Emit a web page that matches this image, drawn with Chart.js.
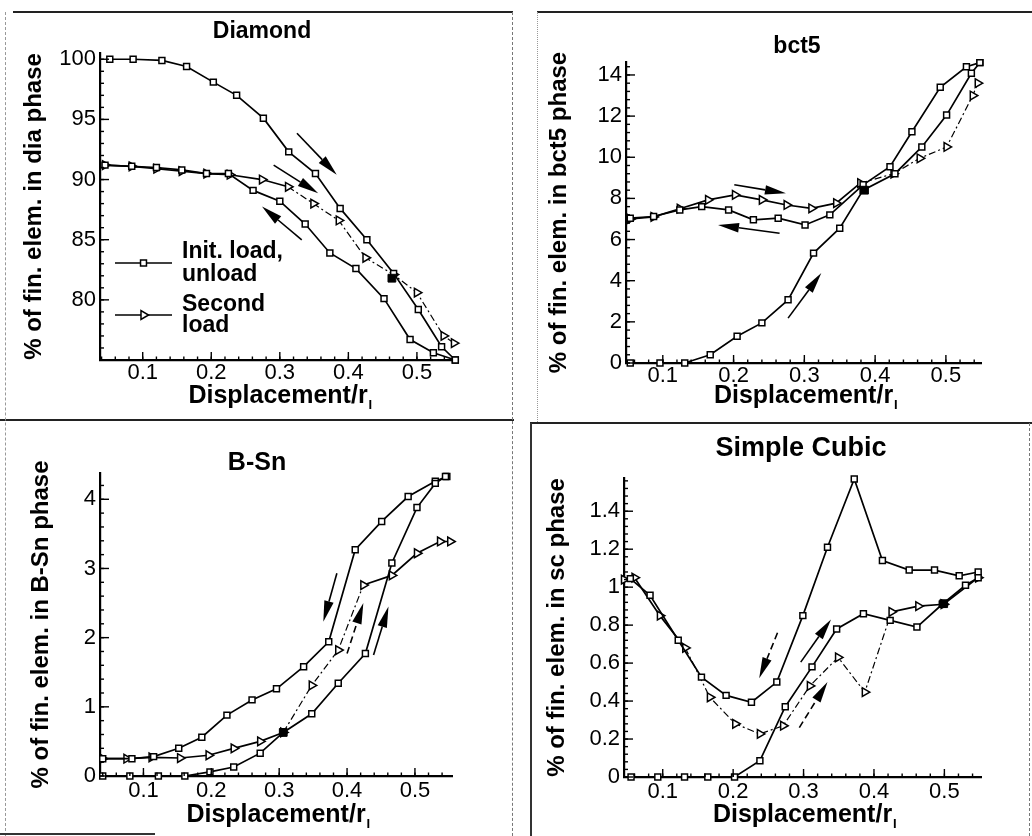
<!DOCTYPE html>
<html><head><meta charset="utf-8">
<script src="https://cdn.jsdelivr.net/npm/chart.js@4.4.1/dist/chart.umd.min.js"></script>
<style>
html,body{margin:0;padding:0;background:#fff;}
#wrap{position:relative;width:1032px;height:836px;overflow:hidden;background:#fff;}
canvas{position:absolute;}
.ln{position:absolute;pointer-events:none;}
</style></head><body>
<div id="wrap">
<canvas id="c1"></canvas><canvas id="c2"></canvas><canvas id="c3"></canvas><canvas id="c4"></canvas>
<div class="ln" style="left:13px;top:11px;width:500px;height:2px;background:#222"></div>
<div class="ln" style="left:537px;top:11px;width:495px;height:2px;background:#222"></div>
<div class="ln" style="left:0;top:419px;width:514px;height:2px;background:#222"></div>
<div class="ln" style="left:530px;top:422px;width:502px;height:2px;background:#222"></div>
<div class="ln" style="left:512px;top:12px;height:408px;border-left:1px dashed #777"></div>
<div class="ln" style="left:537px;top:12px;height:410px;border-left:1px dotted #999"></div>
<div class="ln" style="left:5px;top:12px;height:824px;border-left:1px dashed #999"></div>
<div class="ln" style="left:512px;top:421px;height:415px;border-left:1px dashed #777"></div>
<div class="ln" style="left:530px;top:423px;height:413px;border-left:2px solid #333"></div>
<div class="ln" style="left:1029px;top:423px;height:413px;border-left:1px dashed #777"></div>
<div class="ln" style="left:0;top:833px;width:155px;height:2px;background:#333"></div>
</div>
<script>
// ---------- shared ----------
const xTickValues = [0.1, 0.2, 0.3, 0.4, 0.5];
const xAxisTitle = 'Displacement/r';
const xAxisSub = 'I';
const legendLabels = [['Init. load,', 'unload'], ['Second', 'load']];

// ---------- Diamond ----------
const diaTitle = 'Diamond';
const diaYTitle = '% of fin. elem. in dia phase';
const diaYTicks = [80, 85, 90, 95, 100];
const diaInitX = [0.052, 0.086, 0.128, 0.164, 0.203, 0.237, 0.276, 0.313, 0.352, 0.388, 0.427, 0.466, 0.502, 0.536, 0.556];
const diaInitY = [100, 100, 99.9, 99.4, 98.1, 97.0, 95.1, 92.3, 90.5, 87.6, 85.0, 82.2, 79.2, 76.1, 75.0];
const diaUnloadX = [0.556, 0.524, 0.490, 0.452, 0.411, 0.373, 0.337, 0.300, 0.261, 0.225, 0.193, 0.157, 0.120, 0.084, 0.045];
const diaUnloadY = [75.0, 75.6, 76.7, 80.1, 82.6, 83.9, 86.3, 88.2, 89.1, 90.5, 90.5, 90.8, 91.0, 91.1, 91.2];
const diaSecondX = [0.045, 0.084, 0.120, 0.157, 0.193, 0.227, 0.274, 0.312, 0.349, 0.386, 0.425, 0.466, 0.500, 0.539, 0.554];
const diaSecondY = [91.2, 91.1, 90.9, 90.7, 90.5, 90.4, 90.0, 89.4, 88.0, 86.6, 83.5, 82.1, 80.6, 77.0, 76.4];
const diaFilledX = [0.4635];
const diaFilledY = [81.8];
const diaArrows = [[0.325, 93.85, 0.383, 90.39, 'solid'], [0.291, 91.2, 0.356, 88.86, 'solid'], [0.332, 84.99, 0.274, 87.76, 'solid']];

// ---------- bct5 ----------
const bctTitle = 'bct5';
const bctYTitle = '% of fin. elem. in bct5 phase';
const bctYTicks = [0, 2, 4, 6, 8, 10, 12, 14];
const bctInitX = [0.054, 0.096, 0.131, 0.167, 0.205, 0.240, 0.277, 0.313, 0.350, 0.383, 0.428, 0.466, 0.501, 0.536, 0.548];
const bctInitY = [0, 0, 0, 0.4, 1.3, 1.95, 3.07, 5.34, 6.55, 8.4, 9.2, 10.5, 12.05, 14.08, 14.6];
const bctUnloadX = [0.548, 0.529, 0.492, 0.452, 0.421, 0.383, 0.336, 0.301, 0.263, 0.228, 0.193, 0.155, 0.124, 0.087, 0.054];
const bctUnloadY = [14.6, 14.4, 13.4, 11.24, 9.54, 8.66, 7.2, 6.71, 7.04, 6.96, 7.44, 7.6, 7.44, 7.12, 7.04];
const bctSecondX = [0.054, 0.087, 0.124, 0.164, 0.202, 0.240, 0.275, 0.310, 0.345, 0.379, 0.426, 0.463, 0.501, 0.538, 0.545];
const bctSecondY = [7.0, 7.1, 7.5, 7.93, 8.17, 7.93, 7.68, 7.52, 7.77, 8.74, 9.2, 9.95, 10.5, 13.0, 13.6];
const bctFilledX = [0.385];
const bctFilledY = [8.4];
const bctArrows = [[0.201, 8.66, 0.274, 8.25, 'solid'], [0.265, 6.31, 0.178, 6.71, 'solid'], [0.277, 2.18, 0.324, 4.37, 'solid']];

// ---------- B-Sn ----------
const bsnTitle = 'B-Sn';
const bsnYTitle = '% of fin. elem. in B-Sn phase';
const bsnYTicks = [0, 1, 2, 3, 4];
const bsnInitX = [0.040, 0.080, 0.122, 0.161, 0.198, 0.233, 0.272, 0.306, 0.348, 0.387, 0.427, 0.466, 0.503, 0.530, 0.545];
const bsnInitY = [0, 0, 0, 0, 0.06, 0.13, 0.33, 0.63, 0.90, 1.34, 1.77, 3.08, 3.88, 4.23, 4.33];
const bsnUnloadX = [0.547, 0.530, 0.490, 0.451, 0.412, 0.373, 0.336, 0.296, 0.260, 0.223, 0.186, 0.152, 0.115, 0.083, 0.040];
const bsnUnloadY = [4.33, 4.26, 4.04, 3.68, 3.27, 1.94, 1.58, 1.26, 1.10, 0.88, 0.56, 0.40, 0.28, 0.25, 0.25];
const bsnSecondX = [0.040, 0.075, 0.112, 0.154, 0.196, 0.233, 0.272, 0.306, 0.348, 0.387, 0.424, 0.466, 0.503, 0.537, 0.552];
const bsnSecondY = [0.25, 0.25, 0.27, 0.26, 0.30, 0.40, 0.50, 0.63, 1.31, 1.82, 2.76, 2.90, 3.22, 3.39, 3.39];
const bsnFilledX = [0.306];
const bsnFilledY = [0.63];
const bsnArrows = [[0.385, 2.93, 0.365, 2.23, 'solid'], [0.400, 1.77, 0.424, 2.50, 'dash'], [0.439, 1.75, 0.461, 2.45, 'solid']];

// ---------- Simple Cubic ----------
const scTitle = 'Simple Cubic';
const scYTitle = '% of fin. elem. in sc phase';
const scYTicks = [0, 0.2, 0.4, 0.6, 0.8, 1, 1.2, 1.4];
const scInitX = [0.055, 0.093, 0.131, 0.164, 0.202, 0.238, 0.274, 0.312, 0.347, 0.385, 0.423, 0.461, 0.497, 0.530, 0.548];
const scInitY = [0, 0, 0, 0, 0, 0.086, 0.37, 0.58, 0.78, 0.86, 0.825, 0.79, 0.91, 1.01, 1.05];
const scUnloadX = [0.548, 0.521, 0.486, 0.450, 0.412, 0.372, 0.334, 0.299, 0.262, 0.226, 0.190, 0.155, 0.122, 0.082, 0.054];
const scUnloadY = [1.08, 1.06, 1.09, 1.09, 1.14, 1.57, 1.21, 0.85, 0.50, 0.394, 0.43, 0.526, 0.72, 0.957, 1.045];
const scSecondX = [0.045, 0.060, 0.096, 0.132, 0.167, 0.203, 0.238, 0.271, 0.309, 0.349, 0.387, 0.425, 0.463, 0.499, 0.548];
const scSecondY = [1.04, 1.05, 0.85, 0.68, 0.42, 0.28, 0.227, 0.27, 0.48, 0.63, 0.447, 0.87, 0.90, 0.91, 1.05];
const scFilledX = [0.499];
const scFilledY = [0.913];
const scArrows = [[0.263, 0.76, 0.237, 0.52, 'dash'], [0.296, 0.605, 0.339, 0.83, 'solid'], [0.294, 0.26, 0.334, 0.50, 'dash']];

// ---------- helpers / plugins ----------
Chart.defaults.font.family = "'Liberation Sans', Arial, Helvetica, sans-serif";
Chart.defaults.color = '#000';
const pts = (xs, ys) => xs.map((x, i) => ({x: x, y: ys[i]}));

const inwardTicks = {
  id: 'inwardTicks',
  afterDraw(chart, args, opts) {
    const {ctx, chartArea: a} = chart;
    const xs = chart.scales.x, ys = chart.scales.y;
    ctx.save(); ctx.strokeStyle = '#000'; ctx.lineWidth = 1.4;
    const dx = (v, len) => { const p = xs.getPixelForValue(v); ctx.beginPath(); ctx.moveTo(p, a.bottom); ctx.lineTo(p, a.bottom - len); ctx.stroke(); };
    const dy = (v, len) => { const p = ys.getPixelForValue(v); ctx.beginPath(); ctx.moveTo(a.left, p); ctx.lineTo(a.left + len, p); ctx.stroke(); };
    for (let k = Math.ceil(xs.min / opts.xMinor); k * opts.xMinor <= xs.max + 1e-9; k++) dx(k * opts.xMinor, 3.5);
    for (let k = Math.ceil(ys.min / opts.yMinor); k * opts.yMinor <= ys.max + 1e-9; k++) dy(k * opts.yMinor, 4);
    xs.ticks.forEach(t => dx(t.value, 8));
    ys.ticks.forEach(t => dy(t.value, 9));
    ctx.restore();
  }
};

const arrowsPlugin = {
  id: 'arrows',
  afterDatasetsDraw(chart, args, opts) {
    const {ctx} = chart; const xs = chart.scales.x, ys = chart.scales.y;
    (opts.list || []).forEach(([x0, y0, x1, y1, style]) => {
      const ax = xs.getPixelForValue(x0), ay = ys.getPixelForValue(y0);
      const bx = xs.getPixelForValue(x1), by = ys.getPixelForValue(y1);
      const ang = Math.atan2(by - ay, bx - ax), c = Math.cos(ang), s = Math.sin(ang);
      const L = 21, W = 4.8;
      const hx = bx - L * c, hy = by - L * s;
      ctx.save(); ctx.strokeStyle = '#000'; ctx.fillStyle = '#000'; ctx.lineWidth = 1.6;
      ctx.setLineDash(style === 'dash' ? [7, 4] : []);
      ctx.beginPath(); ctx.moveTo(ax, ay); ctx.lineTo(hx, hy); ctx.stroke();
      ctx.setLineDash([]);
      ctx.beginPath(); ctx.moveTo(bx, by); ctx.lineTo(hx - W * s, hy + W * c); ctx.lineTo(hx + W * s, hy - W * c); ctx.closePath(); ctx.fill();
      ctx.restore();
    });
  }
};

const innerLegend = {
  id: 'innerLegend',
  afterDraw(chart, args, opts) {
    if (!opts.items) return;
    const {ctx, chartArea: a} = chart;
    ctx.save();
    opts.items.forEach(it => {
      const ds = chart.data.datasets[it.dataset];
      const y = a.top + it.dy;
      ctx.strokeStyle = '#000'; ctx.lineWidth = 1.6; ctx.setLineDash([]);
      ctx.beginPath(); ctx.moveTo(a.left + it.x0, y); ctx.lineTo(a.left + it.x1, y); ctx.stroke();
      ctx.fillStyle = '#fff'; ctx.lineWidth = ds.pointBorderWidth;
      Chart.helpers.drawPoint(ctx, {pointStyle: ds.pointStyle, rotation: ds.pointRotation || 0, radius: ds.pointRadius, borderWidth: ds.pointBorderWidth}, a.left + (it.x0 + it.x1) / 2, y);
      ctx.fillStyle = '#000'; ctx.font = 'bold 23px "Liberation Sans", Arial, sans-serif';
      ctx.textAlign = 'left'; ctx.textBaseline = 'middle';
      it.text.forEach((t, i) => ctx.fillText(t, a.left + it.tx, y + it.ty[i]));
    });
    ctx.restore();
  }
};

const xSub = {
  id: 'xSub',
  afterDraw(chart) {
    const sc = chart.scales.x; const t = sc.options.title;
    const f = Chart.helpers.toFont(t.font);
    const {ctx} = chart;
    ctx.save(); ctx.font = f.string;
    const w = ctx.measureText(t.text).width;
    const cx = (sc.left + sc.right) / 2;
    const cy = sc.bottom - t.padding.bottom - f.lineHeight / 2;
    ctx.font = 'bold 13px "Liberation Sans", Arial, sans-serif';
    ctx.fillStyle = '#000'; ctx.textAlign = 'left'; ctx.textBaseline = 'middle';
    ctx.fillText(xAxisSub, cx + w / 2 + 1, cy + 9);
    ctx.restore();
  }
};

function makePanel(id, L, S) {
  const cv = document.getElementById(id);
  // canvas width chosen so that the full-width title is centred on titleCX
  const W = Math.max(2 * L.titleCX, L.area.r + 10);
  cv.width = W; cv.height = L.h; cv.style.left = L.left + 'px'; cv.style.top = L.top + 'px';
  const tLH = L.titleSize * 1.2;
  const tTop = L.titleCY - tLH / 2;
  const tBot = L.area.t - tTop - tLH;
  const axSize = 24, axLH = axSize * 1.2;
  const yPad = L.yTitleCX - axLH / 2;
  const xPad = L.h - L.xTitleCY - 25 * 1.2 / 2;
  const lineDs = (label, xs, ys, style, rot, dashRange) => ({
    label: label, data: pts(xs, ys), showLine: true, borderColor: '#000', borderWidth: 1.7,
    pointStyle: style, pointRotation: rot, rotation: rot, pointRadius: style === 'rect' ? 4.2 : 5,
    pointBackgroundColor: '#fff', pointBorderColor: '#000', pointBorderWidth: 1.5,
    clip: false, tension: 0, order: 1,
    segment: dashRange ? {borderDash: c => (c.p0.parsed.x >= dashRange[0] - 1e-6 && c.p0.parsed.x < dashRange[1] - 1e-6) ? [7, 3, 2, 3] : undefined, borderWidth: c => (c.p0.parsed.x >= dashRange[0] - 1e-6 && c.p0.parsed.x < dashRange[1] - 1e-6) ? 1.2 : undefined} : undefined
  });
  const datasets = [
    lineDs('Init. load', S.initX, S.initY, 'rect', 0, null),
    lineDs('Unload', S.unloadX, S.unloadY, 'rect', 0, null),
    lineDs('Second load', S.secondX, S.secondY, 'triangle', 90, S.dash),
    {label: 'marker', data: pts(S.filledX, S.filledY), showLine: false, pointStyle: 'rect', pointRadius: 5.5,
     pointBackgroundColor: '#000', pointBorderColor: '#000', clip: false, order: 0}
  ];
  return new Chart(cv, {
    type: 'scatter',
    data: {datasets: datasets},
    options: {
      responsive: false, animation: false, events: [],
      layout: {padding: 0},
      plugins: {
        legend: {display: false}, tooltip: {enabled: false},
        title: {display: true, text: S.title, color: '#000', fullSize: true,
                font: {size: L.titleSize, weight: 'bold', lineHeight: 1.2}, padding: {top: tTop, bottom: tBot}},
        inwardTicks: {xMinor: 0.02, yMinor: S.yMinor},
        arrows: {list: S.arrows},
        innerLegend: S.legend ? {items: S.legend} : {}
      },
      scales: {
        x: {type: 'linear', min: S.xMin, max: S.xMax,
            afterBuildTicks: s => { s.ticks = xTickValues.map(v => ({value: v})); },
            afterFit: s => { s.height = L.h - L.area.b; },
            grid: {display: false, drawTicks: false},
            border: {display: true, color: '#000', width: 2.2},
            ticks: {font: {size: 22}, padding: L.xTickPad, color: '#000', autoSkip: false, maxRotation: 0, callback: v => String(v)},
            title: {display: true, text: xAxisTitle, color: '#000', font: {size: 25, weight: 'bold', lineHeight: 1.2}, padding: {top: 0, bottom: xPad}}},
        y: {type: 'linear', position: 'left', min: S.yMin, max: S.yMax,
            afterBuildTicks: s => { s.ticks = S.yTicks.map(v => ({value: v})); },
            afterFit: s => { s.width = L.area.l; },
            grid: {display: false, drawTicks: false},
            border: {display: true, color: '#000', width: 2.2},
            ticks: {font: {size: 22}, padding: 4, color: '#000', autoSkip: false, callback: v => String(v)},
            title: {display: true, text: S.yTitle, color: '#000', font: {size: axSize, weight: 'bold', lineHeight: 1.2}, padding: {top: yPad, bottom: 0}}},
        // empty right-hand spacer so the chart area ends where the reference plot ends
        spacer: {type: 'linear', position: 'right', axis: 'y', min: 0, max: 1,
            afterFit: s => { s.width = W - L.area.r; },
            grid: {display: false, drawTicks: false}, border: {display: false},
            ticks: {display: false}, title: {display: false}}
      }
    },
    plugins: [inwardTicks, arrowsPlugin, innerLegend, xSub]
  });
}

makePanel('c1',
  {left: 0, top: 0, h: 420, area: {l: 100, t: 53, r: 456, b: 360}, titleCX: 262, titleCY: 32, titleSize: 23, yTitleCX: 34, xTitleCY: 396, xTickPad: 0},
  {title: diaTitle, yTitle: diaYTitle, yTicks: diaYTicks, xMin: 0.0377, xMax: 0.557, yMin: 75, yMax: 100.52, yMinor: 1,
   initX: diaInitX, initY: diaInitY, unloadX: diaUnloadX, unloadY: diaUnloadY, secondX: diaSecondX, secondY: diaSecondY,
   filledX: diaFilledX, filledY: diaFilledY, arrows: diaArrows, dash: [0.31, 1],
   legend: [{dataset: 0, x0: 15, x1: 72, dy: 210, tx: 82, ty: [-11, 12], text: legendLabels[0]},
            {dataset: 2, x0: 15, x1: 72, dy: 262, tx: 82, ty: [-10, 11], text: legendLabels[1]}]});

makePanel('c2',
  {left: 516, top: 0, h: 420, area: {l: 110, t: 62, r: 465, b: 363}, titleCX: 281, titleCY: 47, titleSize: 23, yTitleCX: 43, xTitleCY: 396, xTickPad: 0},
  {title: bctTitle, yTitle: bctYTitle, yTicks: bctYTicks, xMin: 0.048, xMax: 0.5496, yMin: 0, yMax: 14.63, yMinor: 0.4,
   initX: bctInitX, initY: bctInitY, unloadX: bctUnloadX, unloadY: bctUnloadY, secondX: bctSecondX, secondY: bctSecondY,
   filledX: bctFilledX, filledY: bctFilledY, arrows: bctArrows, dash: [0.379, 1]});

makePanel('c3',
  {left: 0, top: 420, h: 416, area: {l: 100, t: 53, r: 452, b: 356}, titleCX: 257, titleCY: 43, titleSize: 25, yTitleCX: 41, xTitleCY: 395, xTickPad: 2},
  {title: bsnTitle, yTitle: bsnYTitle, yTicks: bsnYTicks, xMin: 0.036, xMax: 0.5546, yMin: 0, yMax: 4.38, yMinor: 0.2,
   initX: bsnInitX, initY: bsnInitY, unloadX: bsnUnloadX, unloadY: bsnUnloadY, secondX: bsnSecondX, secondY: bsnSecondY,
   filledX: bsnFilledX, filledY: bsnFilledY, arrows: bsnArrows, dash: [0.306, 0.424]});

makePanel('c4',
  {left: 516, top: 420, h: 416, area: {l: 108, t: 58, r: 465, b: 357}, titleCX: 285, titleCY: 29, titleSize: 27, yTitleCX: 41, xTitleCY: 395, xTickPad: 2},
  {title: scTitle, yTitle: scYTitle, yTicks: scYTicks, xMin: 0.045, xMax: 0.552, yMin: 0, yMax: 1.575, yMinor: 0.04,
   initX: scInitX, initY: scInitY, unloadX: scUnloadX, unloadY: scUnloadY, secondX: scSecondX, secondY: scSecondY,
   filledX: scFilledX, filledY: scFilledY, arrows: scArrows, dash: [0.132, 0.425]});
</script>
</body></html>
